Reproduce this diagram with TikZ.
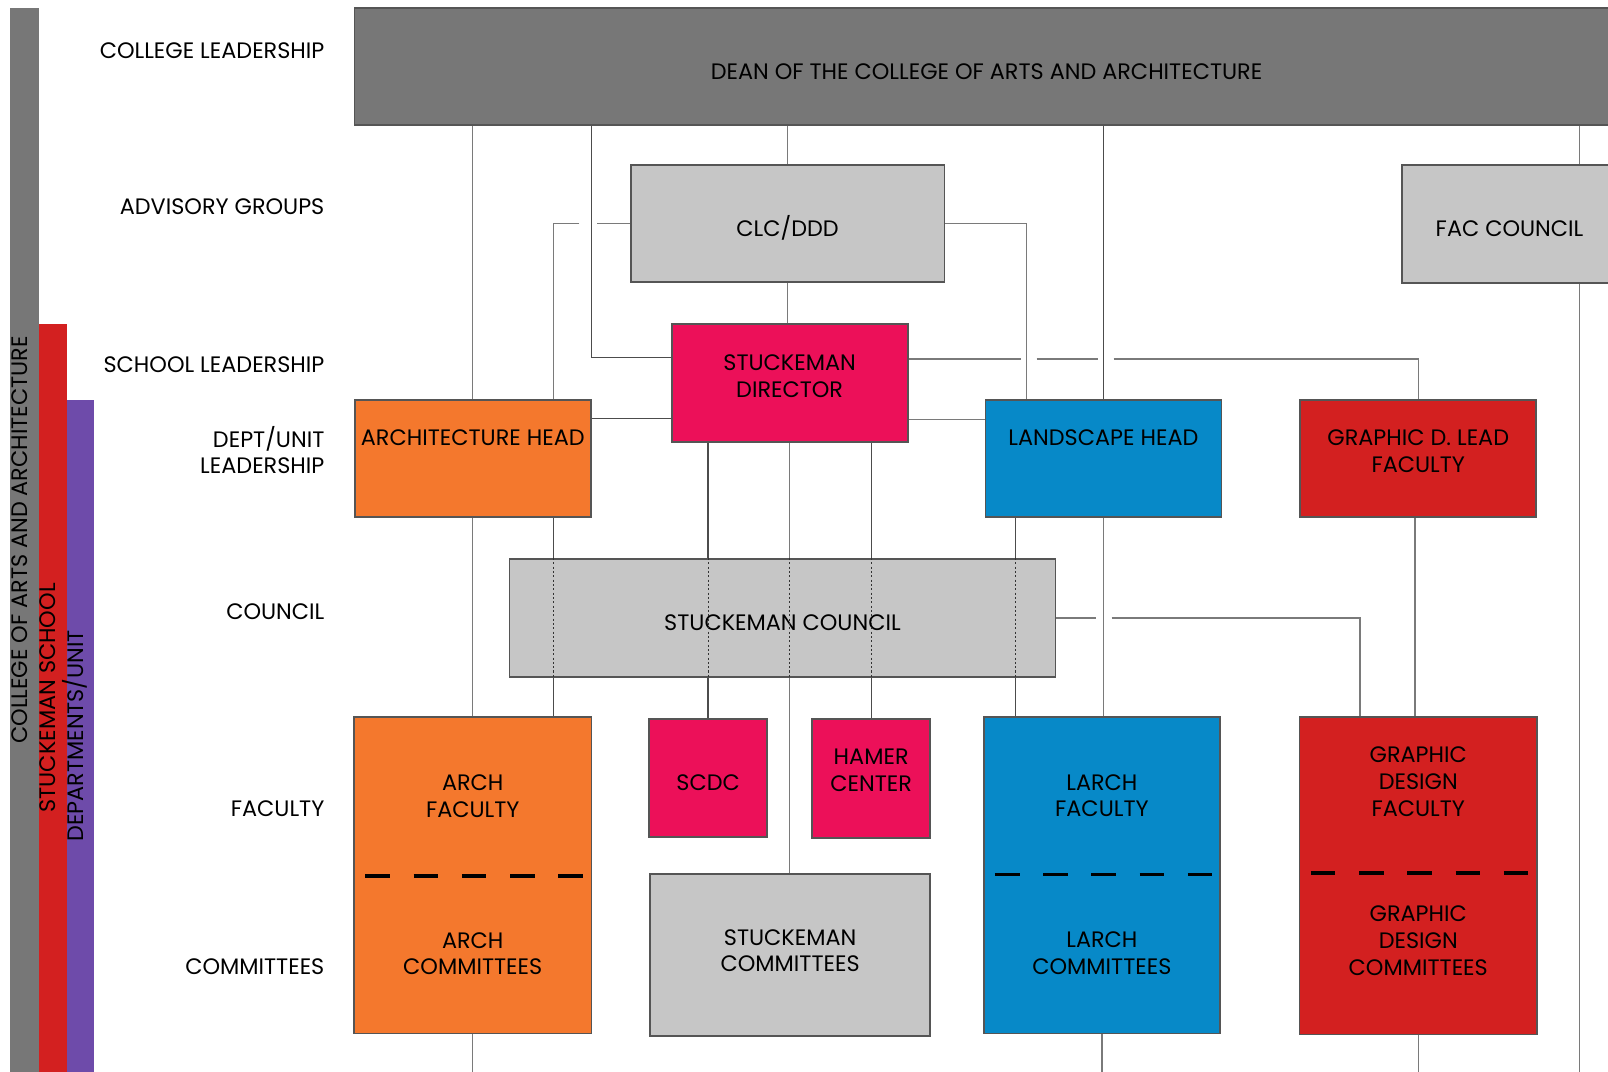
\documentclass[tikz,border=0pt]{standalone}
\usepackage{fontspec}
\setmainfont{Poppins}
\usetikzlibrary{positioning,backgrounds}

\definecolor{deangray}{HTML}{777777}
\definecolor{lightbox}{HTML}{C6C6C6}
\definecolor{stuckpink}{HTML}{EC1059}
\definecolor{archorange}{HTML}{F4782D}
\definecolor{larchblue}{HTML}{0789C8}
\definecolor{gdred}{HTML}{D32020}
\definecolor{unitpurple}{HTML}{6E4BAA}
\definecolor{wiregray}{HTML}{7A7A7A}
\definecolor{edgegray}{HTML}{555555}

\tikzset{
  unit/.style={draw=edgegray, line width=0.5pt, inner sep=0pt, align=center},
  lowtext/.style={text height=0.25cm, text depth=0pt},
  half/.style={inner sep=0pt, align=center, minimum width=2.3cm},
  boxtext/.style={inner sep=0pt, align=center},
  wire/.style={draw=wiregray, line width=0.4pt},
  darkwire/.style={draw=black!70, line width=0.35pt},
  crossing/.style={draw=black!80, line width=0.3pt, dash pattern=on 0.6pt off 0.6pt},
  split/.style={draw=black, line width=1.1pt, dash pattern=on 0.24cm off 0.23cm},
  rowlabel/.style={anchor=east, inner sep=0pt, align=right},
  bar/.style={rotate=90, inner sep=0pt, minimum height=0.28cm, text height=0.15cm, text depth=0.1cm},
}

\begin{document}
\begin{tikzpicture}[x=0.01cm, y=-0.01cm, font=\fontsize{6.2}{7.4}\selectfont]
\useasboundingbox (0,0) rectangle (1568,1045);
\clip (0,0) rectangle (1568,1045);

% side bars
\node[bar, fill=deangray, minimum width=10.37cm] (collegebar) at (24,526.5) {COLLEGE OF ARTS AND ARCHITECTURE};
\node[bar, fill=gdred, minimum width=7.29cm, minimum height=0.27cm] (schoolbar) at (51.5,680.5) {STUCKEMAN SCHOOL};
\node[bar, fill=unitpurple, minimum width=6.55cm, minimum height=0.27cm] (unitbar) at (78.5,717.5) {DEPARTMENTS/UNIT};

% row labels
\node[rowlabel] (collegerow) at (317,49) {COLLEGE LEADERSHIP};
\node[rowlabel] (advisoryrow) at (317,202) {ADVISORY GROUPS};
\node[rowlabel] (schoolrow) at (317,356) {SCHOOL LEADERSHIP};
\node[rowlabel] (unitrow) at (317,439) {DEPT/UNIT\\LEADERSHIP};
\node[rowlabel] (councilrow) at (317,596) {COUNCIL};
\node[rowlabel] (facultyrow) at (317,789) {FACULTY};
\node[rowlabel] (committeerow) at (317,943) {COMMITTEES};

% boxes
\node[unit, lowtext, fill=deangray, minimum width=12.32cm, minimum height=1.14cm] (dean) at (962,65) {DEAN OF THE COLLEGE OF ARTS AND ARCHITECTURE};
\node[unit, lowtext, fill=lightbox, minimum width=3.06cm, minimum height=1.14cm] (clc) at (768,218) {CLC/DDD};
\node[unit, lowtext, fill=lightbox, minimum width=2.10cm, minimum height=1.15cm] (fac) at (1472,218.5) {FAC COUNCIL};
\node[unit, fill=stuckpink, minimum width=2.30cm, minimum height=1.15cm] (director) at (770,373.5) {};
\node[boxtext, below=0.3cm of director.north] {STUCKEMAN\\DIRECTOR};
\node[unit, fill=archorange, minimum width=2.30cm, minimum height=1.14cm] (archhead) at (461,447) {};
\node[boxtext, below=0.295cm of archhead.north] {ARCHITECTURE HEAD};
\node[unit, fill=larchblue, minimum width=2.30cm, minimum height=1.14cm] (landhead) at (1076,447) {};
\node[boxtext, below=0.295cm of landhead.north] {LANDSCAPE HEAD};
\node[unit, fill=gdred, minimum width=2.30cm, minimum height=1.14cm] (gdlead) at (1383,447) {};
\node[boxtext, below=0.295cm of gdlead.north] {GRAPHIC D. LEAD\\FACULTY};
\node[unit, lowtext, fill=lightbox, minimum width=5.32cm, minimum height=1.15cm] (council) at (763,602.5) {STUCKEMAN COUNCIL};
\node[unit, lowtext, fill=stuckpink, minimum width=1.15cm, minimum height=1.15cm] (scdc) at (690.5,758.5) {SCDC};
\node[unit, fill=stuckpink, minimum width=1.15cm, minimum height=1.16cm] (hamer) at (849.5,759) {};
\node[boxtext, below=0.295cm of hamer.north] {HAMER\\CENTER};
\node[unit, fill=lightbox, minimum width=2.73cm, minimum height=1.58cm] (stucom) at (770.5,931) {};
\node[boxtext, below=0.545cm of stucom.north] {STUCKEMAN\\COMMITTEES};

% faculty / committees pairs
\node[half, fill=archorange, minimum height=1.53cm] (archfac) at (461,776.5) {ARCH\\FACULTY};
\node[half, fill=archorange, minimum height=1.54cm] (archcom) at (461,930) {ARCH\\COMMITTEES};
\node[half, fill=larchblue, minimum width=2.29cm, minimum height=1.52cm] (larchfac) at (1074.5,776) {LARCH\\FACULTY};
\node[half, fill=larchblue, minimum width=2.29cm, minimum height=1.55cm] (larchcom) at (1074.5,929.5) {LARCH\\COMMITTEES};
\node[half, fill=gdred, minimum height=1.51cm] (gdfac) at (1383,775.5) {};
\node[boxtext, below=0.285cm of gdfac.north] {GRAPHIC\\DESIGN\\FACULTY};
\node[half, fill=gdred, minimum height=1.57cm] (gdcom) at (1383,929.5) {};
\node[boxtext, below=0.325cm of gdcom.north] {GRAPHIC\\DESIGN\\COMMITTEES};
\foreach \fac/\com in {archfac/archcom, larchfac/larchcom, gdfac/gdcom}{
  \draw[draw=edgegray, line width=0.5pt] (\fac.north west) rectangle (\com.south east);
  \draw[split] ([xshift=0.11cm]\fac.south west) -- ([xshift=-0.08cm]\fac.south east);
}

% tap points for the lines
\coordinate (archtap) at ([xshift=-0.37cm]archhead.north east);
\coordinate (landtap) at ([xshift=0.41cm]landhead.north west);
\coordinate (landlow) at ([xshift=0.30cm]landhead.south west);
\coordinate (gdtap) at ([xshift=-0.57cm]gdfac.north);
\coordinate (facline) at ([xshift=0.68cm]fac.north);
\coordinate (archlink) at ([yshift=0.39cm]archhead.east);
\coordinate (landlink) at ([yshift=0.38cm]landhead.west);
\coordinate (bottomedge) at (0,1060);

\begin{scope}[on background layer]
% from the dean
\draw[wire] (dean.south -| archhead) -- (archhead.north);
\draw[darkwire] (dean.south -| archhead.east) |- ([yshift=0.25cm]director.west);
\draw[wire] (dean.south -| clc) -- (clc.north);
\draw[darkwire] (dean.south -| landhead) -- (landhead.north);
\draw[wire] (facline |- dean.south) -- (facline);
\draw[wire] (facline |- fac.south) -- (facline |- bottomedge);
% advisory
\draw[wire] (clc.south) -- (clc.south |- director.north);
\draw[wire] (clc.west) -- ++(-32,0) ++(-17,0) -| (archtap);
\draw[wire] (clc.east) -| (landtap);
% director
\draw[wire] ([yshift=0.235cm]director.east) -- ++(110,0) ++(15,0) -- ++(60,0) ++(15,0) -| (gdlead.north);
\draw[darkwire] (archlink) -- (archlink -| director.west);
\draw[wire] (landlink -| director.east) -- (landlink);
\draw[darkwire] (director.south -| scdc) -- (scdc.north);
\draw[wire] (director.south) -- (director.south |- stucom.north);
\draw[darkwire] (director.south -| hamer) -- (hamer.north);
% heads to faculty
\draw[wire] (archhead.south) -- (archfac.north);
\draw[darkwire] (archtap |- archhead.south) -- (archtap |- archfac.north);
\draw[darkwire] (landlow) -- (landlow |- larchfac.north);
\draw[wire] (landhead.south) -- (landhead.south |- larchfac.north);
\draw[wire] ([xshift=-0.03cm]gdlead.south) -- ([xshift=-0.03cm]gdfac.north);
\draw[wire] (council.east) -- ++(39,0) ++(15,0) -| (gdtap);
% down to the next level
\draw[wire] (archcom.south) -- (archcom.south |- bottomedge);
\draw[wire] (larchcom.south) -- (larchcom.south |- bottomedge);
\draw[wire] (gdcom.south) -- (gdcom.south |- bottomedge);
\end{scope}

% lines seen through the council
\foreach \tap in {archtap, scdc, director, hamer, landlow}
  \draw[crossing] (council.north -| \tap) -- (council.south -| \tap);
\end{tikzpicture}
\end{document}
